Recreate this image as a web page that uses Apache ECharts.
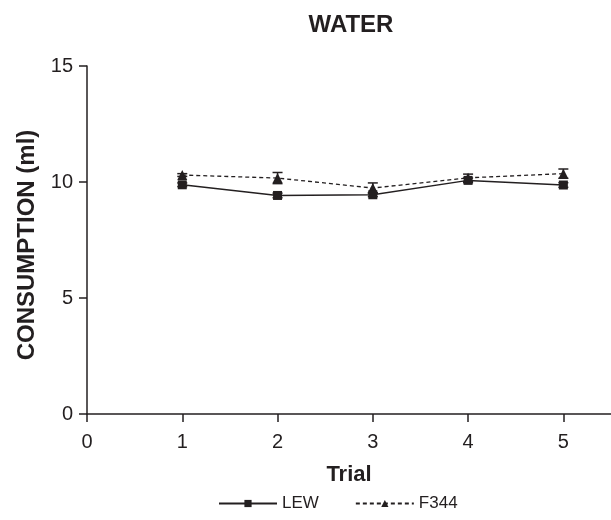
<!DOCTYPE html>
<html>
<head>
<meta charset="utf-8">
<title>Water</title>
<script src="https://cdn.jsdelivr.net/npm/echarts@6/dist/echarts.min.js"></script>
<style>
  html, body { margin: 0; padding: 0; background: #fff; }
  #chart { width: 611px; height: 520px; }
</style>
</head>
<body>
<div id="chart"></div>
<script>
// data
var trials = [1, 2, 3, 4, 5];
var lewMean = [9.88, 9.42, 9.45, 10.07, 9.87];
var lewErr = [0.08, 0.1, 0.08, 0.1, 0.1];
var f344Mean = [10.3, 10.17, 9.74, 10.18, 10.36];
var f344Err = [0.06, 0.24, 0.22, 0.16, 0.2];

var ink = '#231f20';
var font = 'Liberation Sans, Arial, sans-serif';

function pairs(xs, ys) {
  var out = [];
  for (var i = 0; i < xs.length; i++) out.push([xs[i], ys[i]]);
  return out;
}
function errData(xs, ys, es) {
  var out = [];
  for (var i = 0; i < xs.length; i++) out.push([xs[i], ys[i] - es[i], ys[i] + es[i]]);
  return out;
}
// vertical error bar with caps
function errBar(params, api) {
  var x = api.value(0);
  var lo = api.coord([x, api.value(1)]);
  var hi = api.coord([x, api.value(2)]);
  var w = 5;
  var st = { stroke: ink, lineWidth: 1.5 };
  return {
    type: 'group',
    children: [
      { type: 'line', shape: { x1: lo[0], y1: lo[1], x2: hi[0], y2: hi[1] }, style: st },
      { type: 'line', shape: { x1: hi[0] - w, y1: hi[1], x2: hi[0] + w, y2: hi[1] }, style: st },
      { type: 'line', shape: { x1: lo[0] - w, y1: lo[1], x2: lo[0] + w, y2: lo[1] }, style: st }
    ]
  };
}

var chart = echarts.init(document.getElementById('chart'));
chart.setOption({
  animation: false,
  title: {
    text: 'WATER',
    left: 346, top: 8, textAlign: 'center',
    textStyle: { fontFamily: font, fontSize: 24, fontWeight: 'bold', color: ink }
  },
  legend: {
    top: 490, left: 213,
    itemGap: 36, itemWidth: 58, itemHeight: 9,
    data: ['LEW', 'F344'],
    textStyle: { fontFamily: font, fontSize: 17, color: ink }
  },
  grid: { left: 87, right: 0, top: 66, bottom: 106, containLabel: false },
  xAxis: {
    type: 'value', min: 0, max: 5.5, interval: 1,
    name: 'Trial', nameLocation: 'middle', nameGap: 50,
    nameTextStyle: { fontFamily: font, fontSize: 22, fontWeight: 'bold', color: ink },
    axisLine: { onZero: false, lineStyle: { color: ink, width: 1.5 } },
    axisTick: { length: 8, lineStyle: { color: ink, width: 1.5 } },
    axisLabel: {
      fontFamily: font, fontSize: 20, color: ink, margin: 18, showMaxLabel: false,
      formatter: function (v) { return v % 1 === 0 ? String(v) : ''; }
    },
    splitLine: { show: false }
  },
  yAxis: {
    type: 'value', min: 0, max: 15, interval: 5,
    name: 'CONSUMPTION (ml)', nameLocation: 'middle', nameGap: 44, nameRotate: 90,
    nameTextStyle: { fontFamily: font, fontSize: 24, fontWeight: 'bold', color: ink, padding: [0, 10, 0, 0] },
    axisLine: { show: true, lineStyle: { color: ink, width: 1.5 } },
    axisTick: { show: true, length: 8, lineStyle: { color: ink, width: 1.5 } },
    axisLabel: { fontFamily: font, fontSize: 20, color: ink, margin: 14 },
    splitLine: { show: false }
  },
  series: [
    {
      name: 'F344', type: 'line', data: pairs(trials, f344Mean),
      symbol: 'triangle', symbolSize: 10,
      lineStyle: { color: ink, width: 1.3, type: [4, 3] },
      itemStyle: { color: ink }, z: 3
    },
    {
      name: 'LEW', type: 'line', data: pairs(trials, lewMean),
      symbol: 'rect', symbolSize: 9,
      lineStyle: { color: ink, width: 1.5 },
      itemStyle: { color: ink }, z: 4
    },
    {
      type: 'custom', renderItem: errBar, data: errData(trials, f344Mean, f344Err),
      encode: { x: 0, y: [1, 2] }, z: 2, silent: true
    },
    {
      type: 'custom', renderItem: errBar, data: errData(trials, lewMean, lewErr),
      encode: { x: 0, y: [1, 2] }, z: 2, silent: true
    }
  ]
});
</script>
</body>
</html>
